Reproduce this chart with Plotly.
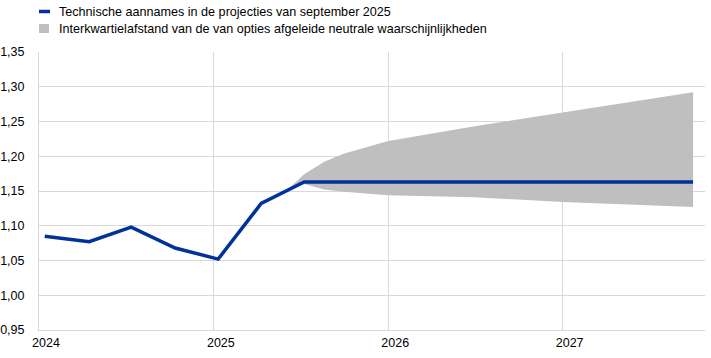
import plotly.graph_objects as go

line_dates = ["2024-01-13", "2024-04-15", "2024-07-12", "2024-10-12", "2025-01-10",
              "2025-04-10", "2025-07-09", "2027-10-01"]
line_values = [1.085, 1.077, 1.098, 1.068, 1.052, 1.132, 1.163, 1.163]

band_dates = ["2025-06-05", "2025-07-09", "2025-08-20", "2025-10-01", "2026-01-01",
              "2026-07-01", "2027-01-01", "2027-10-01"]
band_upper = [1.152, 1.174, 1.192, 1.204, 1.222, 1.243, 1.263, 1.292]
band_lower = [1.152, 1.160, 1.152, 1.149, 1.144, 1.141, 1.134, 1.127]

year_ticks = ["2024-01-01", "2025-01-01", "2026-01-01", "2027-01-01"]
year_labels = ["2024", "2025", "2026", "2027"]
y_ticks = [0.95, 1.00, 1.05, 1.10, 1.15, 1.20, 1.25, 1.30, 1.35]

line_name = "Technische aannames in de projecties van september 2025"
band_name = "Interkwartielafstand van de van opties afgeleide neutrale waarschijnlijkheden"

blue = "#003299"
grey = "#bfbfbf"
gridc = "#d9d9d9"

W, H = 711, 358
L, R, T, B = 39, 6, 52, 28
pw, ph = W - L - R, H - T - B


def px(x):  # pixel -> paper
    return (x - L) / pw


def py(y):
    return (H - B - y) / ph


fig = go.Figure()
fig.add_trace(go.Scatter(x=band_dates, y=band_lower, mode="lines",
                         line=dict(width=0, color=grey), showlegend=False, hoverinfo="skip"))
fig.add_trace(go.Scatter(x=band_dates, y=band_upper, mode="lines", fill="tonexty",
                         fillcolor=grey, line=dict(width=0, color=grey),
                         name=band_name, showlegend=False))
fig.add_trace(go.Scatter(x=line_dates, y=line_values, mode="lines",
                         line=dict(color=blue, width=3.5),
                         name=line_name, showlegend=False))

# legend drawn as shapes + text
fig.add_shape(type="line", xref="paper", yref="paper",
              x0=px(39), x1=px(50), y0=py(11.5), y1=py(11.5),
              line=dict(color=blue, width=3.5))
fig.add_shape(type="rect", xref="paper", yref="paper",
              x0=px(39), x1=px(49), y0=py(24), y1=py(33),
              line=dict(width=0), fillcolor=grey)
for txt, yy in [(line_name, 11.5), (band_name, 28.5)]:
    fig.add_annotation(text=txt, xref="paper", yref="paper", x=px(57), y=py(yy),
                       xanchor="left", yanchor="middle", showarrow=False,
                       font=dict(size=12.6, color="#000000"))

fig.update_layout(
    width=W, height=H,
    margin=dict(l=L, r=R, t=T, b=B, autoexpand=False),
    paper_bgcolor="white", plot_bgcolor="white",
    font=dict(family="Liberation Sans, Arial, sans-serif", size=12, color="#000000"),
    separators=",.",
    showlegend=False,
)
fig.update_xaxes(
    type="date", range=["2024-01-01", "2027-10-26"],
    tickvals=year_ticks, ticktext=year_labels,
    showgrid=True, gridcolor=gridc, gridwidth=1,
    showline=True, linecolor=gridc, linewidth=1,
    ticks="", ticklabelshift=7, ticklabelstandoff=1,
    tickfont=dict(size=12.5, color="#000000"), zeroline=False,
)
fig.update_yaxes(
    range=[0.95, 1.35], tickvals=y_ticks, tickformat=".2f",
    showgrid=True, gridcolor=gridc, gridwidth=1,
    showline=True, linecolor=gridc, linewidth=1,
    ticks="", ticklabelstandoff=11,
    tickfont=dict(size=12.5, color="#000000"), zeroline=False,
)

fig.write_html("out.html", config={"displayModeBar": False},
               post_script="document.body.style.margin='0';")
